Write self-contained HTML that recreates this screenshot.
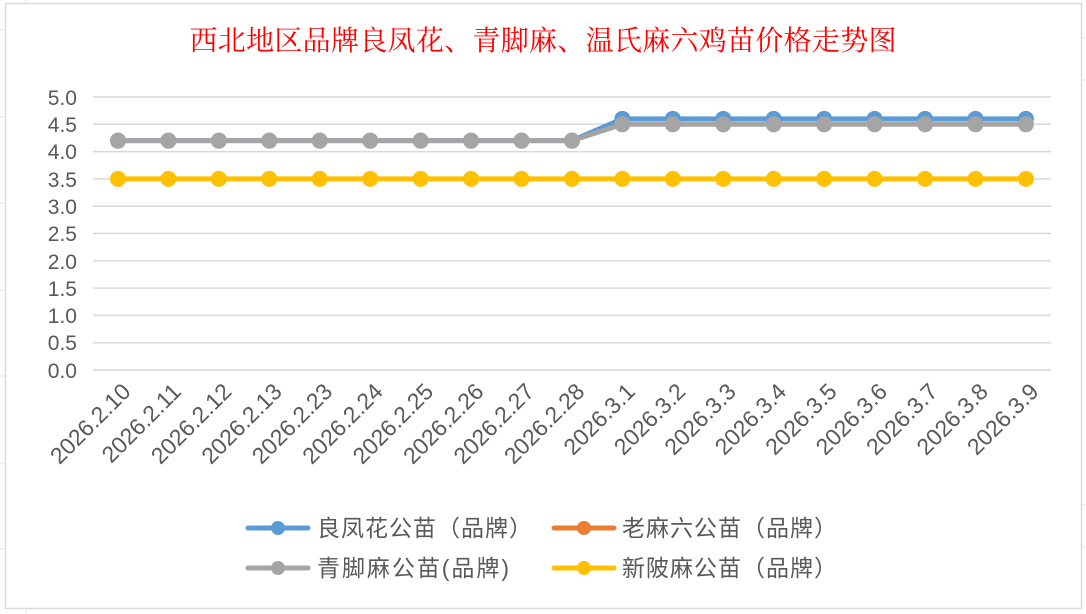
<!DOCTYPE html>
<html><head><meta charset="utf-8"><style>
body{margin:0;background:#fff;}
svg{display:block}
</style></head><body>
<svg width="1086" height="614" xmlns="http://www.w3.org/2000/svg" font-family="'Liberation Sans','Noto Sans CJK SC',sans-serif">
<rect width="1086" height="614" fill="#fff"/>
<g stroke="#e3e3e3" stroke-width="1">
<line x1="0" y1="30" x2="5" y2="30"/><line x1="0" y1="117" x2="5" y2="117"/><line x1="0" y1="203" x2="5" y2="203"/><line x1="0" y1="290" x2="5" y2="290"/><line x1="0" y1="376" x2="5" y2="376"/><line x1="0" y1="463" x2="5" y2="463"/><line x1="0" y1="549" x2="5" y2="549"/>
<line x1="1082" y1="38" x2="1086" y2="38"/><line x1="1082" y1="80" x2="1086" y2="80"/><line x1="1082" y1="505" x2="1086" y2="505"/><line x1="1082" y1="547" x2="1086" y2="547"/>
<line x1="26" y1="0" x2="26" y2="3"/><line x1="26" y1="610" x2="26" y2="614"/>
</g>
<rect x="5.5" y="3.5" width="1076" height="605" fill="#fff" stroke="#d9d9d9" stroke-width="1.5"/>
<text x="543" y="50" text-anchor="middle" font-family="'Liberation Serif','Noto Serif CJK SC',serif" font-size="28" fill="#ff0000" textLength="707">西北地区品牌良凤花、青脚麻、温氏麻六鸡苗价格走势图</text>
<g stroke="#d9d9d9" stroke-width="1.5">
<line x1="93" y1="97" x2="1051" y2="97"/><line x1="93" y1="124.3" x2="1051" y2="124.3"/><line x1="93" y1="151.6" x2="1051" y2="151.6"/><line x1="93" y1="178.9" x2="1051" y2="178.9"/><line x1="93" y1="206.2" x2="1051" y2="206.2"/><line x1="93" y1="233.5" x2="1051" y2="233.5"/><line x1="93" y1="260.8" x2="1051" y2="260.8"/><line x1="93" y1="288.1" x2="1051" y2="288.1"/><line x1="93" y1="315.4" x2="1051" y2="315.4"/><line x1="93" y1="342.7" x2="1051" y2="342.7"/><line x1="93" y1="370" x2="1051" y2="370"/>
</g>
<g font-size="21" fill="#595959" text-anchor="end">
<text x="77" y="105">5.0</text><text x="77" y="132">4.5</text><text x="77" y="159">4.0</text><text x="77" y="187">3.5</text><text x="77" y="214">3.0</text><text x="77" y="241">2.5</text><text x="77" y="269">2.0</text><text x="77" y="296">1.5</text><text x="77" y="323">1.0</text><text x="77" y="350">0.5</text><text x="77" y="378">0.0</text>
</g>
<g font-size="23" fill="#595959" text-anchor="end" id="xl"></g>
<g id="series"></g>
<g>
<line x1="248" y1="528" x2="308" y2="528" stroke="#5b9bd5" stroke-width="5" stroke-linecap="round"/><circle cx="278" cy="528" r="7" fill="#5b9bd5"/>
<text x="317" y="536" font-size="23" fill="#595959" textLength="215">良凤花公苗（品牌）</text>
<line x1="554" y1="528" x2="614" y2="528" stroke="#ed7d31" stroke-width="5" stroke-linecap="round"/><circle cx="584" cy="528" r="7" fill="#ed7d31"/>
<text x="622" y="536" font-size="23" fill="#595959" textLength="215">老麻六公苗（品牌）</text>
<line x1="248" y1="568" x2="308" y2="568" stroke="#a5a5a5" stroke-width="5" stroke-linecap="round"/><circle cx="278" cy="568" r="7" fill="#a5a5a5"/>
<text x="317" y="576" font-size="23" fill="#595959" textLength="192">青脚麻公苗(品牌)</text>
<line x1="554" y1="568" x2="614" y2="568" stroke="#ffc000" stroke-width="5" stroke-linecap="round"/><circle cx="584" cy="568" r="7" fill="#ffc000"/>
<text x="622" y="576" font-size="23" fill="#595959" textLength="215">新陂麻公苗（品牌）</text>
</g>
<script>
var labels=["2026.2.10","2026.2.11","2026.2.12","2026.2.13","2026.2.23","2026.2.24","2026.2.25","2026.2.26","2026.2.27","2026.2.28","2026.3.1","2026.3.2","2026.3.3","2026.3.4","2026.3.5","2026.3.6","2026.3.7","2026.3.8","2026.3.9"];
var ns="http://www.w3.org/2000/svg";
function X(i){return 118+i*50.44;}
function Y(v){return 370-v*54.6;}
var xl=document.getElementById('xl');
labels.forEach(function(l,i){var t=document.createElementNS(ns,'text');var x=X(i)+14,y=393;t.setAttribute('x',x);t.setAttribute('y',y);t.setAttribute('transform','rotate(-45 '+x+' '+y+')');t.textContent=l;xl.appendChild(t);});
var s=document.getElementById('series');
function draw(vals,col){var pts=vals.map(function(v,i){return X(i)+','+Y(v);}).join(' ');var p=document.createElementNS(ns,'polyline');p.setAttribute('points',pts);p.setAttribute('fill','none');p.setAttribute('stroke',col);p.setAttribute('stroke-width','5');s.appendChild(p);vals.forEach(function(v,i){var c=document.createElementNS(ns,'circle');c.setAttribute('cx',X(i));c.setAttribute('cy',Y(v));c.setAttribute('r','8');c.setAttribute('fill',col);s.appendChild(c);});}
var b=[],g=[],y=[];for(var i=0;i<19;i++){b.push(i<10?4.2:4.6);g.push(i<10?4.2:4.5);y.push(3.5);}
draw(b,'#5b9bd5');draw(g,'#a5a5a5');draw(y,'#ffc000');
</script>
</svg>
</body></html>
